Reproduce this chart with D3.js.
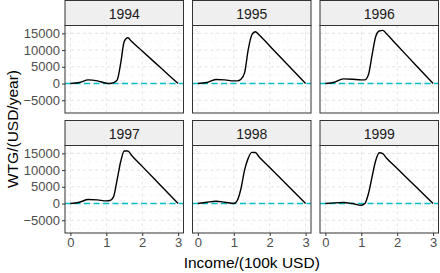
<!DOCTYPE html>
<html>
<head>
<meta charset="utf-8">
<script src="https://cdn.jsdelivr.net/npm/d3@7"></script>
<style>
  body { margin: 0; background: #fff; }
  text { font-family: "Liberation Sans", Arial, sans-serif; }
</style>
</head>
<body>
<div id="chart-area"></div>
<script>
const WIDTH = 440
const HEIGHT = 273

// Data
const years = ["1994", "1995", "1996", "1997", "1998", "1999"]
const income = [0, 0.25, 0.5, 0.75, 1.0, 1.1, 1.2, 1.3, 1.4, 1.5, 1.6, 1.7, 2.0, 2.5, 3.0]
const wtg1994 = [0, 300, 1100, 800, 100, 0, 250, 1000, 6000, 12600, 13700, 12630, 9720, 4860, 0]
const wtg1995 = [0, 300, 1200, 1100, 800, 800, 1300, 3200, 10000, 14500, 15500, 14600, 11230, 5615, 0]
const wtg1996 = [0, 400, 1400, 1300, 1100, 1100, 2700, 8500, 14000, 15700, 15900, 14860, 11430, 5710, 0]
const wtg1997 = [0, 400, 1200, 1100, 800, 900, 2000, 7000, 12500, 15700, 15700, 14440, 11110, 5555, 0]
const wtg1998 = [0, 400, 700, 400, 0, 1000, 4500, 10000, 13500, 15300, 15250, 13990, 10760, 5380, 0]
const wtg1999 = [0, 200, 300, 0, -500, 0, 3000, 8000, 12800, 15200, 14900, 13620, 10480, 5240, 0]
const series = [wtg1994, wtg1995, wtg1996, wtg1997, wtg1998, wtg1999]

const xTicks = [0, 1, 2, 3]
const xMinor = [0.5, 1.5, 2.5]
const yTicks = [-5000, 0, 5000, 10000, 15000]
const yMinor = [-7500, -2500, 2500, 7500, 12500]

// Layout
const COL_X = [65, 192.5, 320]
const ROW_Y = [0.5, 120.5]
const PANEL_W = 118.5
const STRIP_H = 25
const PANEL_H = 87.5

const svg = d3.select("#chart-area").append("svg")
  .attr("width", WIDTH)
  .attr("height", HEIGHT)

const x = d3.scaleLinear().domain([-0.15, 3.15]).range([0, PANEL_W])
const y = d3.scaleLinear().domain([-8800, 17350]).range([PANEL_H, 0])

const line = d3.line()
  .x((d, i) => x(income[i]))
  .y(d => y(d))
  .curve(d3.curveMonotoneX)

svg.append("defs").append("clipPath")
  .attr("id", "clip")
  .append("rect")
  .attr("width", PANEL_W)
  .attr("height", PANEL_H)

years.forEach((year, k) => {
  const col = k % 3
  const row = Math.floor(k / 3)
  const left = COL_X[col]
  const top = ROW_Y[row]

  // strip
  svg.append("rect")
    .attr("x", left).attr("y", top)
    .attr("width", PANEL_W).attr("height", STRIP_H)
    .attr("fill", "#efefef")
    .attr("stroke", "#333").attr("stroke-width", 1)
  svg.append("text")
    .attr("x", left + PANEL_W / 2)
    .attr("y", top + 18)
    .attr("text-anchor", "middle")
    .attr("font-size", "14px")
    .attr("fill", "#1a1a1a")
    .text(year)

  const g = svg.append("g")
    .attr("transform", `translate(${left}, ${top + STRIP_H})`)

  g.append("rect")
    .attr("width", PANEL_W).attr("height", PANEL_H)
    .attr("fill", "#fff")

  // grid
  const grid = g.append("g").attr("fill", "none")
  yMinor.forEach(v => grid.append("line")
    .attr("x1", 0).attr("x2", PANEL_W).attr("y1", y(v)).attr("y2", y(v))
    .attr("stroke", "#f0f0f0").attr("stroke-width", 0.6).attr("stroke-dasharray", "3,3"))
  xMinor.forEach(v => grid.append("line")
    .attr("y1", 0).attr("y2", PANEL_H).attr("x1", x(v)).attr("x2", x(v))
    .attr("stroke", "#f0f0f0").attr("stroke-width", 0.6).attr("stroke-dasharray", "3,3"))
  yTicks.forEach(v => grid.append("line")
    .attr("x1", 0).attr("x2", PANEL_W).attr("y1", y(v)).attr("y2", y(v))
    .attr("stroke", "#e3e3e3").attr("stroke-width", 1).attr("stroke-dasharray", "3,3"))
  xTicks.forEach(v => grid.append("line")
    .attr("y1", 0).attr("y2", PANEL_H).attr("x1", x(v)).attr("x2", x(v))
    .attr("stroke", "#e3e3e3").attr("stroke-width", 1).attr("stroke-dasharray", "3,3"))

  const plot = g.append("g").attr("clip-path", "url(#clip)")

  // zero reference
  plot.append("line")
    .attr("x1", 0).attr("x2", PANEL_W)
    .attr("y1", y(0)).attr("y2", y(0))
    .attr("stroke", "#00BFC4")
    .attr("stroke-width", 1.5)
    .attr("stroke-dasharray", "6,3.5")

  plot.append("path")
    .datum(series[k])
    .attr("fill", "none")
    .attr("stroke", "#000")
    .attr("stroke-width", 1.4)
    .attr("d", line)

  g.append("rect")
    .attr("width", PANEL_W).attr("height", PANEL_H)
    .attr("fill", "none")
    .attr("stroke", "#333").attr("stroke-width", 1)

  // Y axis on left column
  if (col === 0) {
    const yAxisCall = d3.axisLeft(y).tickValues(yTicks).tickFormat(d3.format("d"))
      .tickSize(3).tickPadding(2)
    const ya = g.append("g").call(yAxisCall)
    ya.select(".domain").remove()
    ya.selectAll("line").attr("stroke", "#333")
    ya.selectAll("text").attr("font-size", "13px").attr("fill", "#4d4d4d")
      .attr("font-family", "Liberation Sans, Arial, sans-serif")
  }
  // X axis on bottom row
  if (row === 1) {
    const xAxisCall = d3.axisBottom(x).tickValues(xTicks).tickFormat(d3.format("d"))
      .tickSize(3).tickPadding(2)
    const xa = g.append("g")
      .attr("transform", `translate(0, ${PANEL_H})`)
      .call(xAxisCall)
    xa.select(".domain").remove()
    xa.selectAll("line").attr("stroke", "#333")
    xa.selectAll("text").attr("font-size", "13px").attr("fill", "#4d4d4d")
      .attr("font-family", "Liberation Sans, Arial, sans-serif")
  }
})

// Labels
svg.append("text")
  .attr("x", (COL_X[0] + COL_X[2] + PANEL_W) / 2)
  .attr("y", 268)
  .attr("text-anchor", "middle")
  .attr("font-size", "15.5px")
  .text("Income/(100k USD)")
svg.append("text")
  .attr("transform", "rotate(-90)")
  .attr("x", -129)
  .attr("y", 18)
  .attr("text-anchor", "middle")
  .attr("font-size", "15.5px")
  .text("WTG/(USD/year)")
</script>
</body>
</html>
